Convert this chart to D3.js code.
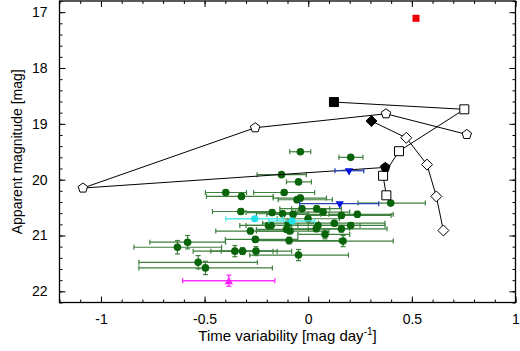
<!DOCTYPE html>
<html>
<head>
<meta charset="utf-8">
<script src="https://cdn.jsdelivr.net/npm/d3@7"></script>
<style>
  body { margin: 0; background: #fff; }
  svg { display: block; font-family: "Liberation Sans", Arial, Helvetica, sans-serif; }
</style>
</head>
<body>
<svg id="chart" width="520" height="351"></svg>
<script>
// green sample: x, y, x error range, y error
const greenX   = [-0.038, 0.205, -0.129, -0.047, -0.398, -0.322, -0.116, -0.054, -0.038, -0.030, 0.398, -0.325, -0.174, -0.124, -0.073, 0.041, 0.072, 0.160, 0.237, -0.001, -0.192, -0.179, -0.105, -0.089, -0.279, 0.039, 0.047, 0.126, 0.160, 0.205, 0.081, -0.255, -0.092, 0.168, -0.631, -0.582, -0.354, -0.317, -0.252, -0.047, -0.531, -0.496, -0.097];
const greenY   = [19.50, 19.60, 19.91, 20.04, 20.23, 20.30, 20.23, 20.36, 20.33, 20.52, 20.42, 20.57, 20.59, 20.61, 20.62, 20.52, 20.58, 20.64, 20.62, 20.70, 20.82, 20.82, 20.89, 20.92, 20.92, 20.88, 20.82, 20.78, 20.88, 20.82, 20.98, 21.07, 21.09, 21.10, 21.21, 21.12, 21.28, 21.28, 21.28, 21.35, 21.48, 21.58, 20.78];
const greenXLo = [-0.089, 0.148, -0.247, -0.105, -0.496, -0.491, -0.263, -0.145, -0.169, -0.137, 0.24, -0.462, -0.30, -0.25, -0.20, -0.08, -0.06, 0.00, 0.10, -0.15, -0.33, -0.30, -0.25, -0.25, -0.446, -0.10, -0.08, 0.00, 0.00, 0.05, -0.05, -0.40, -0.25, -0.10, -0.841, -0.764, -0.555, -0.47, -0.42, -0.282, -0.817, -0.817, -0.22];
const greenXHi = [0.012, 0.264, -0.009, 0.015, -0.298, -0.169, 0.031, 0.116, 0.088, 0.104, 0.565, -0.169, -0.05, 0.00, 0.06, 0.16, 0.20, 0.40, 0.41, 0.15, -0.05, 0.05, 0.05, 0.10, -0.073, 0.20, 0.25, 0.37, 0.38, 0.37, 0.20, -0.05, 0.15, 0.41, -0.418, -0.399, -0.15, -0.17, -0.08, 0.194, -0.245, -0.173, 0.05];
const greenYErr = [0.03, 0.03, 0.03, 0.03, 0.04, 0.04, 0.04, 0.05, 0.05, 0.05, 0.04, 0.05, 0.05, 0.05, 0.05, 0.05, 0.05, 0.05, 0.05, 0.05, 0.05, 0.05, 0.05, 0.05, 0.05, 0.05, 0.05, 0.05, 0.06, 0.05, 0.08, 0.05, 0.06, 0.10, 0.12, 0.12, 0.10, 0.06, 0.08, 0.10, 0.12, 0.12, 0.05];

// cyan, blue and magenta points
const cyanX = [-0.258, -0.078];
const cyanY = [20.70, 20.74];
const cyanXLo = [-0.398, -0.19];
const cyanXHi = [-0.12, 0.031];

const blueX = [0.197, 0.152];
const blueY = [19.84, 20.43];
const blueXLo = [0.129, -0.041];
const blueXHi = [0.268, 0.340];

const magentaX = [-0.383];
const magentaY = [21.81];
const magentaXLo = [-0.606];
const magentaXHi = [-0.161];
const magentaYErr = [0.10];

// black tracks (first point is the filled one)
const squareX = [0.124, 0.753, 0.438, 0.361, 0.377];
const squareY = [18.61, 18.74, 19.49, 19.93, 20.28];
const pentagonX = [0.372, -1.087, -0.256, 0.375, 0.765];
const pentagonY = [19.78, 20.15, 19.07, 18.82, 19.19];
const diamondX = [0.305, 0.473, 0.573, 0.618, 0.652];
const diamondY = [18.95, 19.25, 19.73, 20.30, 20.91];

const redX = [0.52];
const redY = [17.11];

// axis ticks
const xTicks = [-1, -0.5, 0, 0.5, 1];
const yTicks = [17, 18, 19, 20, 21, 22];
const xMinor = d3.range(-12, 11).map(d => d / 10);
const yMinor = d3.range(84, 112).map(d => d / 5);

let svg = d3.select("#chart");
let pLeft = 59.5, pRight = 515.5, pTop = 1, pBottom = 302.5;

let xScale = d3.scaleLinear().domain([-1.2, 1]).range([pLeft, pRight]);
let yScale = d3.scaleLinear().domain([16.8, 22.2]).range([pTop, pBottom]);

let plot = svg.append("g");

// draws horizontal error bars with caps, plus optional vertical ones
function errorBars(xs, ys, lo, hi, yErr, color, width)
{
    let g = plot.append("g").attr("stroke", color).attr("stroke-width", width).attr("fill", "none");
    xs.forEach(function(x, i) {
        let cy = yScale(ys[i]);
        g.append("line").attr("x1", xScale(lo[i])).attr("x2", xScale(hi[i])).attr("y1", cy).attr("y2", cy);
        g.append("line").attr("x1", xScale(lo[i])).attr("x2", xScale(lo[i])).attr("y1", cy - 2.5).attr("y2", cy + 2.5);
        g.append("line").attr("x1", xScale(hi[i])).attr("x2", xScale(hi[i])).attr("y1", cy - 2.5).attr("y2", cy + 2.5);
        if (yErr) {
            let cx = xScale(x);
            let y1 = yScale(ys[i] - yErr[i]), y2 = yScale(ys[i] + yErr[i]);
            g.append("line").attr("x1", cx).attr("x2", cx).attr("y1", y1).attr("y2", y2);
            g.append("line").attr("x1", cx - 2.5).attr("x2", cx + 2.5).attr("y1", y1).attr("y2", y1);
            g.append("line").attr("x1", cx - 2.5).attr("x2", cx + 2.5).attr("y1", y2).attr("y2", y2);
        }
    });
}

// regular polygon path centred on 0,0
function polygon(n, r, rot)
{
    let pts = d3.range(n).map(function(k) {
        let a = rot + k * 2 * Math.PI / n;
        return [r * Math.sin(a), -r * Math.cos(a)];
    });
    return "M" + pts.join("L") + "Z";
}

errorBars(greenX, greenY, greenXLo, greenXHi, greenYErr, "#3f7f3f", 1.2);

plot.append("g").selectAll("circle")
    .data(greenX)
    .enter()
    .append("circle")
    .attr("cx", d => xScale(d))
    .attr("cy", (d, i) => yScale(greenY[i]))
    .attr("r", 3.8)
    .attr("fill", "#0a640a");

errorBars(cyanX, cyanY, cyanXLo, cyanXHi, null, "#55e8e8", 1.3);
plot.append("g").selectAll("circle")
    .data(cyanX)
    .enter()
    .append("circle")
    .attr("cx", d => xScale(d))
    .attr("cy", (d, i) => yScale(cyanY[i]))
    .attr("r", 3.6)
    .attr("fill", "#20e0e8");

// black track lines
let line = d3.line().x(d => xScale(d[0])).y(d => yScale(d[1]));
[[squareX, squareY], [pentagonX, pentagonY], [diamondX, diamondY]].forEach(function(s) {
    plot.append("path")
        .datum(s[0].map((x, i) => [x, s[1][i]]))
        .attr("d", line)
        .attr("fill", "none")
        .attr("stroke", "#000")
        .attr("stroke-width", 1);
});

errorBars(blueX, blueY, blueXLo, blueXHi, null, "#2a44b0", 1.3);
plot.append("g").selectAll("path")
    .data(blueX)
    .enter()
    .append("path")
    .attr("d", polygon(3, 4.8, Math.PI))
    .attr("transform", (d, i) => "translate(" + xScale(d) + "," + yScale(blueY[i]) + ")")
    .attr("fill", "#0010e0");

errorBars(magentaX, magentaY, magentaXLo, magentaXHi, magentaYErr, "#ff30ff", 1.3);
plot.append("g").selectAll("path")
    .data(magentaX)
    .enter()
    .append("path")
    .attr("d", polygon(3, 4.8, 0))
    .attr("transform", (d, i) => "translate(" + xScale(d) + "," + (yScale(magentaY[i]) + 1) + ")")
    .attr("fill", "#ff20ff");

// black symbols, first of each track filled
function track(xs, ys, path)
{
    plot.append("g").selectAll("path")
        .data(xs)
        .enter()
        .append("path")
        .attr("d", path)
        .attr("transform", (d, i) => "translate(" + xScale(d) + "," + yScale(ys[i]) + ")")
        .attr("fill", (d, i) => i == 0 ? "#000" : "#fff")
        .attr("stroke", "#000")
        .attr("stroke-width", 1);
}
track(squareX, squareY, "M-4.5,-4.5H4.5V4.5H-4.5Z");
track(pentagonX, pentagonY, polygon(5, 5, 0));
track(diamondX, diamondY, polygon(4, 5.5, 0));

plot.append("g").selectAll("rect")
    .data(redX)
    .enter()
    .append("rect")
    .attr("x", d => xScale(d) - 3.5)
    .attr("y", (d, i) => yScale(redY[i]) - 3.5)
    .attr("width", 7)
    .attr("height", 7)
    .attr("fill", "#ee0000");

// axes with inward ticks on all four sides
let fmt = d => String(d);
function styleAxis(g)
{
    g.select(".domain").remove();
    g.selectAll("line").attr("stroke", "#000").attr("stroke-width", 1);
    g.selectAll("text").attr("fill", "#000").attr("font-size", 14).attr("font-family", null);
}

svg.append("g").attr("transform", "translate(0," + pBottom + ")")
    .call(d3.axisBottom(xScale).tickValues(xTicks).tickFormat(fmt).tickSize(-6).tickPadding(12))
    .call(styleAxis);
svg.append("g").attr("transform", "translate(0," + pBottom + ")")
    .call(d3.axisBottom(xScale).tickValues(xMinor).tickFormat("").tickSize(-3))
    .call(styleAxis);
svg.append("g").attr("transform", "translate(0," + pTop + ")")
    .call(d3.axisTop(xScale).tickValues(xTicks).tickFormat("").tickSize(-6))
    .call(styleAxis);
svg.append("g").attr("transform", "translate(0," + pTop + ")")
    .call(d3.axisTop(xScale).tickValues(xMinor).tickFormat("").tickSize(-3))
    .call(styleAxis);

svg.append("g").attr("transform", "translate(" + pLeft + ",0)")
    .call(d3.axisLeft(yScale).tickValues(yTicks).tickFormat(fmt).tickSize(-6).tickPadding(12))
    .call(styleAxis);
svg.append("g").attr("transform", "translate(" + pLeft + ",0)")
    .call(d3.axisLeft(yScale).tickValues(yMinor).tickFormat("").tickSize(-3))
    .call(styleAxis);
svg.append("g").attr("transform", "translate(" + pRight + ",0)")
    .call(d3.axisRight(yScale).tickValues(yTicks).tickFormat("").tickSize(-6))
    .call(styleAxis);
svg.append("g").attr("transform", "translate(" + pRight + ",0)")
    .call(d3.axisRight(yScale).tickValues(yMinor).tickFormat("").tickSize(-3))
    .call(styleAxis);

// frame
svg.append("rect")
    .attr("x", pLeft).attr("y", pTop)
    .attr("width", pRight - pLeft).attr("height", pBottom - pTop)
    .attr("fill", "none").attr("stroke", "#000").attr("stroke-width", 1.3);

// axis titles
let xTitle = svg.append("text")
    .attr("x", (pLeft + pRight) / 2)
    .attr("y", 341)
    .attr("text-anchor", "middle")
    .attr("font-size", 15);
xTitle.append("tspan").text("Time variability [mag day");
xTitle.append("tspan").attr("font-size", 10).attr("dy", -6).text("-1");
xTitle.append("tspan").attr("dy", 6).text("]");

svg.append("text")
    .attr("transform", "translate(22," + (yScale(19.5)) + ") rotate(-90)")
    .attr("text-anchor", "middle")
    .attr("font-size", 14)
    .text("Apparent magnitude [mag]");
</script>
</body>
</html>
